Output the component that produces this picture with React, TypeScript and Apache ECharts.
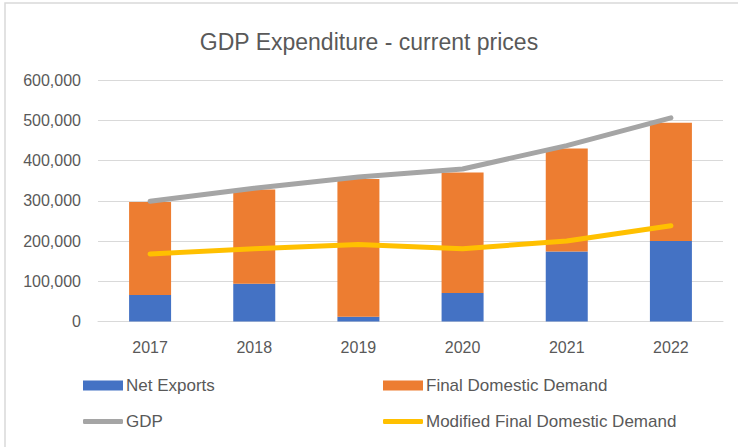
import React, { useEffect, useRef } from "react";
import * as echarts from "echarts";

const categories = ["2017", "2018", "2019", "2020", "2021", "2022"];
const netExports = [66000, 94000, 12000, 71000, 174000, 200000];
const finalDomesticDemand = [231000, 234000, 342000, 299000, 256000, 294000];
const gdp = [299000, 331000, 359000, 379000, 437000, 506000];
const modifiedFDD = [168000, 181000, 191000, 181000, 200000, 238000];
const yTicks = { min: 0, max: 600000, interval: 100000 };

const FONT = "Liberation Sans, Arial, sans-serif";
const TEXT = "#595959";

export default function App() {
  const ref = useRef<HTMLDivElement>(null);
  useEffect(() => {
    if (!ref.current) return;
    const chart = echarts.init(ref.current, null, { renderer: "svg" });
    const legendText = { color: TEXT, fontSize: 17, fontFamily: FONT, padding: [0, 0, 0, -2] };
    chart.setOption({
      animation: false,
      backgroundColor: "#ffffff",
      textStyle: { fontFamily: FONT },
      title: {
        text: "GDP Expenditure - current prices",
        left: "center",
        top: 25,
        textStyle: { color: TEXT, fontSize: 23, fontWeight: "normal", fontFamily: FONT },
      },
      graphic: [
        {
          type: "rect",
          shape: { x: 5, y: 3, width: 800, height: 500 },
          style: { fill: "none", stroke: "#D9D9D9", lineWidth: 1.5 },
          silent: true,
        },
      ],
      grid: { left: 98, right: 15, top: 80, bottom: 125.5, containLabel: false },
      xAxis: {
        type: "category",
        data: categories,
        axisLine: { lineStyle: { color: "#D9D9D9", width: 1 } },
        axisTick: { show: false },
        axisLabel: { color: TEXT, fontSize: 16, margin: 18, fontFamily: FONT },
      },
      yAxis: {
        type: "value",
        min: yTicks.min,
        max: yTicks.max,
        interval: yTicks.interval,
        axisLine: { show: false },
        axisTick: { show: false },
        splitLine: { lineStyle: { color: "#D9D9D9", width: 1 } },
        axisLabel: {
          color: TEXT,
          fontSize: 16,
          margin: 17,
          fontFamily: FONT,
          formatter: (v: number) => v.toLocaleString("en-US"),
        },
      },
      legend: [
        {
          left: 78, top: 372, data: ["Net Exports"], icon: "rect",
          itemWidth: 40, itemHeight: 10, itemGap: 0, textStyle: legendText,
        },
        {
          left: 378, top: 372, data: ["Final Domestic Demand"], icon: "rect",
          itemWidth: 40, itemHeight: 10, itemGap: 0, textStyle: legendText,
        },
        {
          left: 78, top: 408, data: ["GDP"], icon: "roundRect",
          itemWidth: 40, itemHeight: 5, itemGap: 0, textStyle: legendText,
        },
        {
          left: 378, top: 408, data: ["Modified Final Domestic Demand"], icon: "roundRect",
          itemWidth: 40, itemHeight: 5, itemGap: 0, textStyle: legendText,
        },
      ],
      series: [
        {
          name: "Net Exports",
          type: "bar",
          stack: "total",
          data: netExports,
          barWidth: 42,
          itemStyle: { color: "#4472C4" },
        },
        {
          name: "Final Domestic Demand",
          type: "bar",
          stack: "total",
          data: finalDomesticDemand,
          barWidth: 42,
          itemStyle: { color: "#ED7D31" },
        },
        {
          name: "GDP",
          type: "line",
          data: gdp,
          symbol: "none",
          z: 5,
          itemStyle: { color: "#A5A5A5" },
          lineStyle: { color: "#A5A5A5", width: 5, cap: "round", join: "round" },
        },
        {
          name: "Modified Final Domestic Demand",
          type: "line",
          data: modifiedFDD,
          symbol: "none",
          z: 5,
          itemStyle: { color: "#FFC000" },
          lineStyle: { color: "#FFC000", width: 5, cap: "round", join: "round" },
        },
      ],
    });
    return () => chart.dispose();
  }, []);
  return (
    <div
      ref={ref}
      style={{ position: "fixed", left: 0, top: 0, width: 738, height: 447 }}
    />
  );
}
